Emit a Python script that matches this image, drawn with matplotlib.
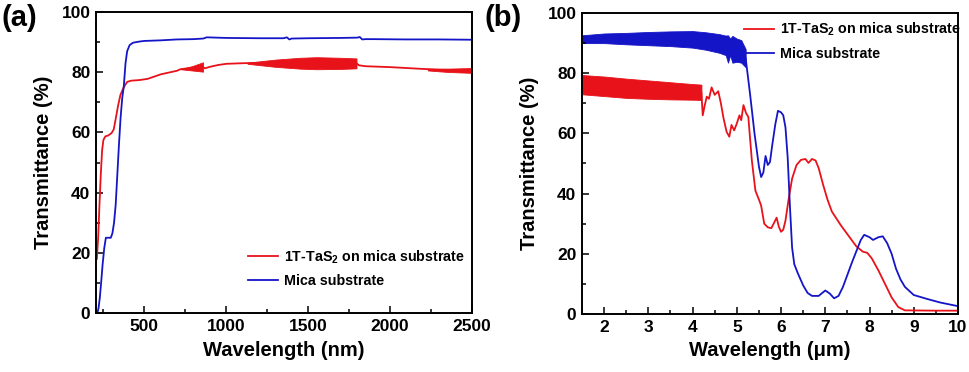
import numpy as np
import matplotlib
matplotlib.use("Agg")
import matplotlib.pyplot as plt
from matplotlib.ticker import MultipleLocator

plt.rcParams['font.family'] = ['Liberation Sans', 'DejaVu Sans']
plt.rcParams['font.weight'] = 'bold'
plt.rcParams['mathtext.fontset'] = 'custom'
plt.rcParams['mathtext.rm'] = 'Liberation Sans:bold'
plt.rcParams['mathtext.default'] = 'rm'

RED = '#e8121a'
BLUE = '#1515c8'

# ---- panel (a): UV-vis-NIR, wavelength in nm ----
a_red_x = [210, 218, 226, 234, 242, 250, 262, 280, 300, 313, 325, 340, 354, 374, 395, 420, 470,
           520, 600, 700, 720, 790, 858, 870, 900, 950, 1000, 1100, 1200, 1300, 1500, 1700, 1795,
           1810, 1850, 1900, 2000, 2100, 2200, 2300, 2400, 2500]
a_red_y = [18, 25, 36, 46, 54, 57.5, 58.7, 59, 59.8, 61, 64.5, 69, 72.5, 75, 76.8, 77.2, 77.4,
           77.8, 79.3, 80.5, 81.0, 81.5, 81.7, 81.3, 81.8, 82.4, 82.8, 83.0, 83.1, 83.0, 83.1, 83.0, 83.0,
           82.3, 82.0, 81.9, 81.7, 81.4, 81.1, 80.9, 80.7, 80.6]

# interference fringe envelopes (upper / lower) of the red curve
a_band1_x = [720, 790, 858]
a_band1_hi = [81.0, 82.0, 83.3]
a_band1_lo = [81.0, 80.6, 80.2]
a_band2_x = [1130, 1300, 1450, 1550, 1700, 1795]
a_band2_hi = [83.2, 84.2, 84.8, 85.0, 84.8, 84.6]
a_band2_lo = [82.8, 81.8, 81.2, 81.0, 81.1, 81.3]
a_band3_x = [2230, 2350, 2500]
a_band3_hi = [81.0, 81.2, 81.4]
a_band3_lo = [80.6, 80.1, 79.8]

a_blue_x = [213, 220, 228, 236, 245, 255, 265, 280, 295, 305, 315, 325, 334, 345, 355, 365, 374,
            385, 395, 410, 430, 470, 500, 600, 700, 800, 860, 880, 1000, 1200, 1350, 1370, 1385,
            1400, 1500, 1700, 1800, 1815, 1830, 1850, 1900, 2100, 2300, 2500]
a_blue_y = [0, 1.5, 5, 10, 16, 21.5, 25, 25, 25, 26.5, 30, 36, 45, 56, 65, 71.5, 75,
            83, 87, 89, 89.8, 90.2, 90.4, 90.6, 90.9, 91.0, 91.2, 91.6, 91.4, 91.3, 91.3, 91.6, 90.9,
            91.2, 91.3, 91.4, 91.5, 91.7, 90.9, 91.0, 91.0, 90.9, 90.9, 90.8]

# ---- panel (b): mid-IR, wavelength in um ----
b_red_band_x = [1.5, 2.0, 2.5, 3.0, 3.5, 4.0, 4.2]
b_red_band_hi = [79.4, 78.9, 78.2, 77.6, 77.0, 76.4, 76.2]
b_red_band_lo = [73.0, 72.4, 71.8, 71.5, 71.3, 71.2, 71.1]
b_red_x = [4.2, 4.23, 4.27, 4.32, 4.37, 4.43, 4.5, 4.58, 4.64, 4.7, 4.77, 4.83, 4.88, 4.94, 5.0,
           5.06, 5.1, 5.15, 5.21, 5.26, 5.34, 5.42, 5.5, 5.55, 5.62, 5.7, 5.78, 5.85, 5.9, 5.95,
           6.0, 6.05, 6.1, 6.17, 6.25, 6.35, 6.45, 6.55, 6.62, 6.7, 6.78, 6.85, 6.95, 7.05, 7.15,
           7.35, 7.5, 7.7, 7.85, 7.95, 8.05, 8.2, 8.35, 8.5, 8.65, 8.8, 9.5, 10.0]
b_red_y = [73.5, 66, 69, 72.2, 71.5, 75.3, 72.8, 74, 70, 65, 60.5, 58.9, 62.8, 61, 63.3,
           66, 64.4, 69.4, 66.7, 65.5, 51, 41, 38, 36, 30, 28.8, 28.5, 30.5, 32, 29,
           27.3, 28, 31, 38, 45, 49.5, 51.2, 51.5, 50.2, 51.5, 51, 48.5, 43, 38, 34,
           29.5, 26.5, 22.5, 20.7, 20.3, 18.5, 14.5, 10, 5.5, 2.3, 1.2, 1.1, 1.1]

b_blue_band_x = [1.5, 2.0, 2.5, 3.0, 3.5, 4.0, 4.3, 4.6, 4.75, 4.8, 4.85, 4.9, 5.0, 5.1, 5.2]
b_blue_band_hi = [92.6, 93.2, 93.4, 93.7, 93.9, 94.0, 93.6, 93.0, 92.5, 92.6, 91.5, 92.4, 91.5, 91.0, 88.0]
b_blue_band_lo = [90.0, 90.0, 89.6, 89.3, 89.0, 88.5, 87.8, 86.8, 86.0, 83.5, 86.0, 83.5, 83.8, 83.5, 82.0]
b_blue_x = [5.2, 5.3, 5.4, 5.5, 5.55, 5.6, 5.65, 5.7, 5.75, 5.8, 5.87, 5.93, 6.0, 6.05, 6.1,
            6.15, 6.2, 6.25, 6.3, 6.38, 6.5, 6.6, 6.7, 6.85, 7.0, 7.1, 7.2, 7.3, 7.4, 7.6, 7.8,
            7.88, 8.0, 8.08, 8.2, 8.3, 8.4, 8.5, 8.6, 8.7, 8.8, 9.0, 9.3, 9.6, 10.0]
b_blue_y = [85, 73, 60, 49, 45.5, 47, 52.5, 49.5, 50.5, 56, 63, 67.5, 67, 66, 62,
            52, 36, 22, 16.5, 13.5, 9.5, 7, 6, 6, 7.8, 6.8, 5.2, 6, 9, 17, 24.5,
            26.3, 25.5, 24.6, 25.5, 25.8, 23.5, 20, 15, 11.5, 9, 6.3, 5, 3.8, 2.6]

fig = plt.figure(figsize=(9.7, 3.72), dpi=100)
axa = fig.add_axes([0.099, 0.1586, 0.3876, 0.809])
axb = fig.add_axes([0.6, 0.156, 0.3876, 0.809])


def style(ax):
    for s in ax.spines.values():
        s.set_linewidth(1.4)
    ax.tick_params(which='both', direction='in', top=False, right=False, width=1.1,
                   labelsize=12.5, pad=4)
    ax.tick_params(which='major', length=5)
    ax.tick_params(which='minor', length=3)
    for lab in ax.get_xticklabels() + ax.get_yticklabels():
        lab.set_fontweight('bold')
    ax.set_ylabel('Transmittance (%)', fontsize=14.5, fontweight='bold', labelpad=6)
    ax.set_ylim(0, 100)
    ax.yaxis.set_major_locator(MultipleLocator(20))
    ax.yaxis.set_minor_locator(MultipleLocator(10))


# panel (a)
axa.plot(a_red_x, a_red_y, color=RED, lw=1.3, label='1T-TaS$_2$ on mica substrate')
axa.plot(a_blue_x, a_blue_y, color=BLUE, lw=1.3, label='Mica substrate')
for bx, hi, lo in [(a_band1_x, a_band1_hi, a_band1_lo),
                   (a_band2_x, a_band2_hi, a_band2_lo),
                   (a_band3_x, a_band3_hi, a_band3_lo)]:
    axa.fill_between(bx, lo, hi, color=RED, lw=0.6)
axa.set_xlim(205, 2500)
axa.xaxis.set_major_locator(MultipleLocator(500))
axa.xaxis.set_minor_locator(MultipleLocator(250))
axa.set_xlabel('Wavelength (nm)', fontsize=14.5, fontweight='bold', labelpad=5)
style(axa)
axa.legend(loc='upper left', bbox_to_anchor=(0.405, 0.215), frameon=False, borderpad=0,
           borderaxespad=0, handlelength=2.1, handletextpad=0.4, labelspacing=0.6,
           prop={'size': 10.3, 'weight': 'bold'})

# panel (b)
axb.fill_between(b_red_band_x, b_red_band_lo, b_red_band_hi, color=RED, lw=0.6)
axb.plot(b_red_x, b_red_y, color=RED, lw=1.3, label='1T-TaS$_2$ on mica substrate')
axb.fill_between(b_blue_band_x, b_blue_band_lo, b_blue_band_hi, color=BLUE, lw=0.6)
axb.plot(b_blue_x, b_blue_y, color=BLUE, lw=1.3, label='Mica substrate')
axb.set_xlim(1.5, 10)
axb.xaxis.set_major_locator(MultipleLocator(1))
axb.xaxis.set_minor_locator(MultipleLocator(0.5))
axb.set_xlabel('Wavelength (μm)', fontsize=14.5, fontweight='bold', labelpad=5)
style(axb)
axb.legend(loc='upper left', bbox_to_anchor=(0.432, 0.975), frameon=False, borderpad=0,
           borderaxespad=0, handlelength=2.1, handletextpad=0.4, labelspacing=0.6,
           prop={'size': 10.3, 'weight': 'bold'})

fig.text(0.002, 0.99, '(a)', fontsize=21, fontweight='bold', va='top', ha='left')
fig.text(0.5, 0.99, '(b)', fontsize=21, fontweight='bold', va='top', ha='left')

fig.savefig('out.png', dpi=100)
